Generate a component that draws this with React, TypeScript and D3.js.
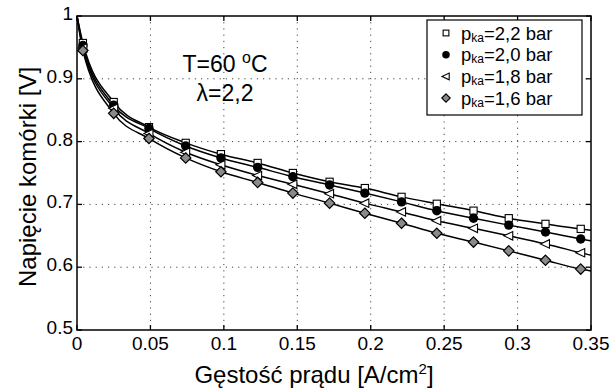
import React from "react";
import * as d3 from "d3";

// current density [A/cm2] where the markers sit
const currentDensity = [0.004, 0.025, 0.049, 0.074, 0.098, 0.123, 0.147, 0.172, 0.196, 0.221, 0.245, 0.27, 0.294, 0.319, 0.343];
// cell voltage [V] for each cathode pressure
const p22 = [0.957, 0.863, 0.823, 0.798, 0.78, 0.766, 0.75, 0.736, 0.726, 0.712, 0.701, 0.69, 0.678, 0.669, 0.661];
const p20 = [0.953, 0.858, 0.821, 0.793, 0.774, 0.759, 0.744, 0.731, 0.718, 0.704, 0.69, 0.678, 0.667, 0.656, 0.645];
const p18 = [0.949, 0.853, 0.813, 0.783, 0.763, 0.746, 0.732, 0.717, 0.702, 0.688, 0.674, 0.662, 0.65, 0.637, 0.623];
const p16 = [0.945, 0.845, 0.805, 0.774, 0.752, 0.735, 0.718, 0.702, 0.686, 0.67, 0.654, 0.64, 0.626, 0.611, 0.597];
// fitted curves: value at j=0 and at the end of the axis
const fitStart = [1.0, 1.0, 1.0, 1.0];
const fitEnd = [0.659, 0.642, 0.619, 0.594];
const pressureLabels = ["2,2", "2,0", "1,8", "1,6"];
const markerKinds = ["square", "circle", "triangle", "diamond"];

const xTicks = [0, 0.05, 0.1, 0.15, 0.2, 0.25, 0.3, 0.35];
const yTicks = [0.5, 0.6, 0.7, 0.8, 0.9, 1.0];

const W = 611;
const H = 388;
const FONT = "'Liberation Sans', Arial, sans-serif";

const Marker = ({ kind, x, y, s = 1 }: { kind: string; x: number; y: number; s?: number }) => {
  if (kind === "square")
    return <rect x={x - 3.6 * s} y={y - 3.6 * s} width={7.2 * s} height={7.2 * s} fill="#fff" stroke="#000" strokeWidth={1.1} />;
  if (kind === "circle") return <circle cx={x} cy={y} r={4.7 * s} fill="#000" />;
  if (kind === "triangle") {
    const r = 5 * s;
    return (
      <path
        d={`M${x - r},${y} L${x + r * 0.8},${y - r * 0.85} L${x + r * 0.8},${y + r * 0.85} Z`}
        fill="#fff"
        stroke="#000"
        strokeWidth={1.1}
      />
    );
  }
  const r = 5.2 * s;
  return (
    <path d={`M${x},${y - r} L${x + r},${y} L${x},${y + r} L${x - r},${y} Z`} fill="#8a8a8a" stroke="#000" strokeWidth={1.2} />
  );
};

const App = () => {
  const left = 77,
    right = 591,
    top = 16,
    bottom = 330;
  const x = d3.scaleLinear().domain([0, 0.35]).range([left, right]);
  const y = d3.scaleLinear().domain([0.5, 1.0]).range([bottom, top]);

  const series = [p22, p20, p18, p16];
  const line = d3
    .line<[number, number]>()
    .x((d) => x(d[0]))
    .y((d) => y(d[1]))
    .curve(d3.curveMonotoneX);

  const fmt = (v: number) => (v === 0 ? "0" : v === 1 ? "1" : String(+v.toFixed(2)));

  return (
    <svg
      width={W}
      height={H}
      style={{ position: "absolute", left: 0, top: 0, background: "#fff" }}
      fontFamily={FONT}
    >
      {/* grid */}
      {xTicks.slice(1, -1).map((t) => (
        <line key={"gx" + t} x1={x(t)} x2={x(t)} y1={top} y2={bottom} stroke="#444" strokeWidth={1} strokeDasharray="1.2,5" />
      ))}
      {yTicks.slice(1, -1).map((t) => (
        <line key={"gy" + t} x1={left} x2={right} y1={y(t)} y2={y(t)} stroke="#444" strokeWidth={1} strokeDasharray="1.2,5" />
      ))}

      {/* fitted lines */}
      {series.map((vals, i) => {
        const pts: [number, number][] = [
          [0, fitStart[i]],
          ...currentDensity.map((c, k) => [c, vals[k]] as [number, number]),
          [0.35, fitEnd[i]],
        ];
        return <path key={"l" + i} d={line(pts) || ""} fill="none" stroke="#000" strokeWidth={1.5} />;
      })}

      {/* markers */}
      {series.map((vals, i) =>
        currentDensity.map((c, k) => <Marker key={`m${i}-${k}`} kind={markerKinds[i]} x={x(c)} y={y(vals[k])} />)
      )}

      {/* frame */}
      <rect x={left} y={top} width={right - left} height={bottom - top} fill="none" stroke="#000" strokeWidth={1.5} />
      {xTicks.map((t) => (
        <g key={"tx" + t}>
          <line x1={x(t)} x2={x(t)} y1={bottom} y2={bottom - 5} stroke="#000" strokeWidth={1.3} />
          <line x1={x(t)} x2={x(t)} y1={top} y2={top + 5} stroke="#000" strokeWidth={1.3} />
          <text x={x(t)} y={bottom + 20} textAnchor="middle" fontSize={19}>
            {fmt(t)}
          </text>
        </g>
      ))}
      {yTicks.map((t) => (
        <g key={"ty" + t}>
          <line x1={left} x2={left + 5} y1={y(t)} y2={y(t)} stroke="#000" strokeWidth={1.3} />
          <line x1={right} x2={right - 5} y1={y(t)} y2={y(t)} stroke="#000" strokeWidth={1.3} />
          <text x={left - 4} y={y(t) + 4} textAnchor="end" fontSize={19}>
            {fmt(t)}
          </text>
        </g>
      ))}

      {/* axis titles */}
      <text x={314} y={383} textAnchor="middle" fontSize={24}>
        Gęstość prądu [A/cm<tspan dy={-9} fontSize={15}>2</tspan>
        <tspan dy={9}>]</tspan>
      </text>
      <text transform={`translate(36, ${(top + bottom) / 2 + 4}) rotate(-90)`} textAnchor="middle" fontSize={24}>
        Napięcie komórki [V]
      </text>

      {/* annotation */}
      <text x={225} y={72} textAnchor="middle" fontSize={23}>
        T=60 <tspan dy={-9} fontSize={16}>o</tspan>
        <tspan dy={9}>C</tspan>
      </text>
      <text x={225} y={101} textAnchor="middle" fontSize={23}>
        λ=2,2
      </text>

      {/* legend */}
      <rect x={427} y={20} width={155} height={95} fill="#fff" stroke="#000" strokeWidth={1.2} />
      {pressureLabels.map((p, i) => {
        const ly = 33 + i * 21.7;
        return (
          <g key={"lg" + i}>
            <Marker kind={markerKinds[i]} x={446} y={ly} s={0.8} />
            <text x={461} y={ly + 6.5} fontSize={18.5}>
              p<tspan fontSize={12} dy={2}>ka</tspan>
              <tspan dy={-2}>={p} bar</tspan>
            </text>
          </g>
        );
      })}
    </svg>
  );
};

export default App;
